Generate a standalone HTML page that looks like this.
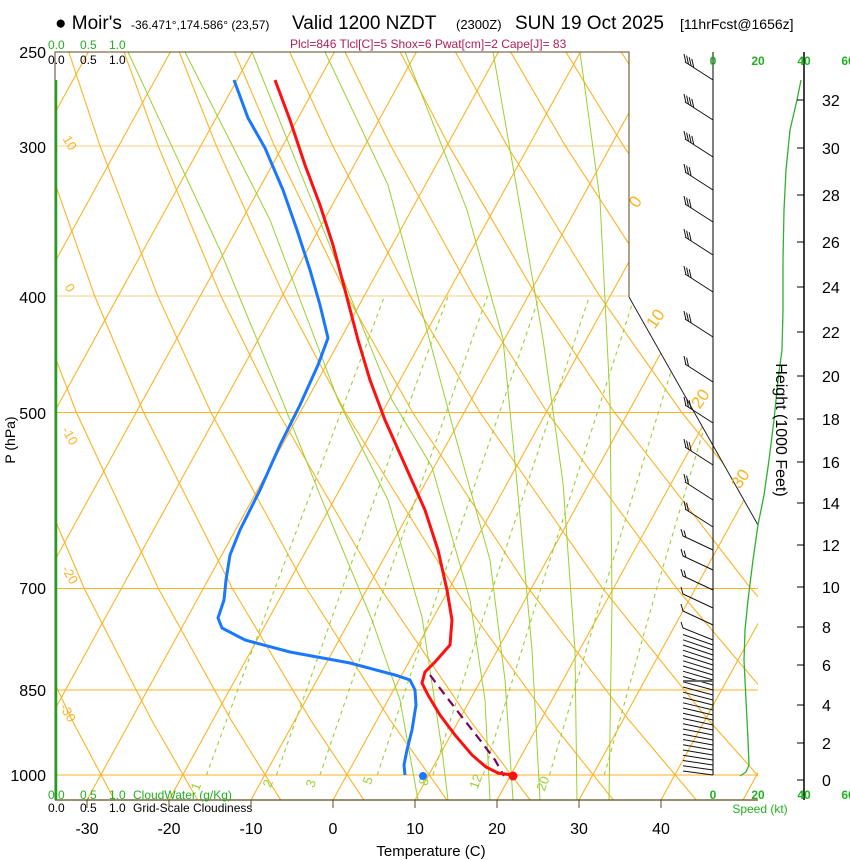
<!DOCTYPE html>
<html><head><meta charset="utf-8">
<style>
html,body{margin:0;padding:0;background:#fff;}
svg{display:block;font-family:"Liberation Sans",sans-serif;}
</style></head>
<body>
<svg width="850" height="860" viewBox="0 0 850 860" xmlns="http://www.w3.org/2000/svg">
<defs><clipPath id="cp"><polygon points="55,52 629,52 629,297 758,525 758,800 55,800"/></clipPath></defs>
<g clip-path="url(#cp)" fill="none">
<g stroke="#fbb324" stroke-width="1">
<line x1="55" y1="775" x2="760" y2="775"/><line x1="55" y1="690" x2="760" y2="690"/><line x1="55" y1="588.5" x2="760" y2="588.5"/><line x1="55" y1="412.5" x2="760" y2="412.5"/>
</g>
<g stroke="#f5cf85" stroke-width="1"><line x1="55" y1="296" x2="760" y2="296"/><line x1="55" y1="146" x2="760" y2="146"/></g>
<g stroke="#fbb324" stroke-width="1.1">
<line x1="-323" y1="800" x2="88.4" y2="52"/><line x1="-241" y1="800" x2="170.4" y2="52"/><line x1="-159" y1="800" x2="252.4" y2="52"/>
<line x1="-77" y1="800" x2="334.4" y2="52"/><line x1="5" y1="800" x2="416.4" y2="52"/><line x1="87" y1="800" x2="498.4" y2="52"/>
<line x1="169" y1="800" x2="580.4" y2="52"/><line x1="251" y1="800" x2="662.4" y2="52"/><line x1="333" y1="800" x2="744.4" y2="52"/>
<line x1="415" y1="800" x2="826.4" y2="52"/><line x1="497" y1="800" x2="908.4" y2="52"/><line x1="579" y1="800" x2="990.4" y2="52"/>
<line x1="661" y1="800" x2="1072.4" y2="52"/><line x1="743" y1="800" x2="1154.4" y2="52"/>
</g>
<g stroke="#fbb324" stroke-width="1.1">
<polyline points="114.7,800.5 71.9,719.9 10.2,588.5"/>
<polyline points="197.9,800.5 151.5,719.9 84.3,588.5 9.2,412.5"/>
<polyline points="281,800.5 231,719.9 158.4,588.5 76.4,412.5 31.5,295.8"/>
<polyline points="364.2,800.5 310.6,719.9 232.4,588.5 143.7,412.5 94.6,295.8 41.6,145.3"/>
<polyline points="447.3,800.5 390.1,719.9 306.5,588.5 211,412.5 157.7,295.8 99.8,145.3 68.1,50"/>
<polyline points="530.5,800.5 469.7,719.9 380.5,588.5 278.2,412.5 220.8,295.8 157.9,145.3 123.3,50"/>
<polyline points="613.7,800.5 549.3,719.9 454.6,588.5 345.5,412.5 283.9,295.8 216.1,145.3 178.5,50"/>
<polyline points="696.8,800.5 628.8,719.9 528.6,588.5 412.7,412.5 347,295.8 274.2,145.3 233.7,50"/>
<polyline points="780,800.5 708.4,719.9 602.7,588.5 480,412.5 410.2,295.8 332.4,145.3 288.8,50"/>
<polyline points="863.1,800.5 788,719.9 676.8,588.5 547.3,412.5 473.3,295.8 390.5,145.3 344,50"/>
<polyline points="946.3,800.5 867.5,719.9 750.8,588.5 614.5,412.5 536.4,295.8 448.7,145.3 399.2,50"/>
<polyline points="1029.4,800.5 947.1,719.9 824.9,588.5 681.8,412.5 599.5,295.8 506.8,145.3 454.4,50"/>
<polyline points="1112.6,800.5 1026.7,719.9 898.9,588.5 749.1,412.5 662.6,295.8 565,145.3 509.5,50"/>
<polyline points="1195.7,800.5 1106.2,719.9 973,588.5 816.3,412.5 725.8,295.8 623.1,145.3 564.7,50"/>
<polyline points="1278.9,800.5 1185.8,719.9 1047,588.5 883.6,412.5 788.9,295.8 681.3,145.3 619.9,50"/>
</g>
<!-- moist adiabats -->
<g stroke="#9ad030" stroke-width="1">
<polyline points="128,52 220,250 282,400 322,500 372,620 400,700 418,800"/>
<polyline points="185,52 270,220 338,400 388,500 422,617 442,750 448,800"/>
<polyline points="252,52 330,246 392,400 432,467 470,600 485,700 490,800"/>
<polyline points="325,52 388,185 455,435 490,560 505,680 513,800"/>
<polyline points="405,52 467,210 503,339 517,483 532,650 540,800"/>
<polyline points="493,52 543,339 563,483 575,650 577,800"/>
<polyline points="580,52 600,200 610,400 612,600 609,800"/>
</g>
<g stroke="#9ad030" stroke-width="1.1" stroke-dasharray="4,4">
<polyline points="206.5,775 274.9,588.5 384.6,295.8"/>
<polyline points="276.4,775 342.2,588.5 448.2,295.8"/>
<polyline points="319.9,775 384,588.5 487.5,295.8"/>
<polyline points="377.3,775 439.2,588.5 539.5,295.8"/>
<polyline points="432.9,775 492.6,588.5 589.6,295.8"/>
<polyline points="483.2,775 540.8,588.5 634.8,295.8"/>
<polyline points="549.5,775 604.3,588.5 694.2,295.8"/>
<polyline points="604.3,775 656.7,588.5 743.1,295.8"/>
</g>
</g>
<polyline points="55,800 55,52 629,52 629,297" fill="none" stroke="#5a4a20" stroke-width="1"/>
<line x1="629" y1="297" x2="758" y2="525" stroke="#222" stroke-width="1"/>
<line x1="55" y1="800" x2="758" y2="800" stroke="#5a4a20" stroke-width="1.2"/>
<line x1="56" y1="80" x2="56" y2="800" stroke="#20a020" stroke-width="2.5"/>
<g font-size="13" fill="#9ad030" text-anchor="middle">
<text x="200" y="788" transform="rotate(-70 200 788)">1</text>
<text x="272" y="785" transform="rotate(-70 272 785)">2</text>
<text x="315" y="785" transform="rotate(-70 315 785)">3</text>
<text x="372" y="782" transform="rotate(-70 372 782)">5</text>
<text x="428" y="783" transform="rotate(-70 428 783)">8</text>
<text x="480" y="783" transform="rotate(-70 480 783)">12</text>
<text x="547" y="785" transform="rotate(-70 547 785)">20</text>
</g>
<g font-size="17" fill="#fbb324" text-anchor="middle">
<text x="640" y="205" transform="rotate(-55 640 205)">0</text>
<text x="660" y="322" transform="rotate(-55 660 322)">10</text>
<text x="705" y="402" transform="rotate(-55 705 402)">20</text>
<text x="745" y="482" transform="rotate(-55 745 482)">30</text>
</g>
<g font-size="13" fill="#fbb324" text-anchor="middle">
<text x="66" y="145" transform="rotate(60 66 145)">10</text>
<text x="66" y="290" transform="rotate(60 66 290)">0</text>
<text x="66" y="438" transform="rotate(60 66 438)">-10</text>
<text x="66" y="577" transform="rotate(60 66 577)">-20</text>
<text x="64" y="715" transform="rotate(60 64 715)">-30</text>
</g>
<polyline points="430,675 445,695 462,717 480,740 495,760 504,776" fill="none" stroke="#800060" stroke-width="2.2" stroke-dasharray="9,6"/>
<polyline fill="none" stroke="#ff1010" stroke-width="3" points="275,80 290,120 305,165 320,205 333,245 345,290 358,340 370,380 385,420 405,465 425,510 438,550 447,590 452,620 450,645 435,662 425,672 422,683 428,695 440,715 455,735 472,755 486,767 498,773 512,775"/>
<polyline fill="none" stroke="#1a78ff" stroke-width="3" points="234,80 248,118 265,148 283,190 297,230 310,270 320,305 328,338 318,365 300,405 280,445 260,490 240,530 230,555 226,580 224,600 218,618 222,628 245,640 290,652 350,663 395,675 410,680 415,690 416,705 412,730 407,750 404,765 405,775"/>
<circle cx="423" cy="776" r="4" fill="#1a78ff"/>
<circle cx="513" cy="776" r="4.5" fill="#ff1010"/>
<line x1="804" y1="52" x2="804" y2="800" stroke="#000" stroke-width="1.5"/>
<line x1="713" y1="52" x2="713" y2="775" stroke="#000" stroke-width="1"/>
<polyline fill="none" stroke="#30b030" stroke-width="1.3" points="801,80 797,100 790,130 786,170 784,210 783,260 783,310 782,350 778,380 774,420 769,460 764,495 758,525 753,560 748,600 745,630 744,660 746,700 748,740 749,765 746,772 740,776"/>
<g fill="none" stroke="#111" stroke-width="1">
<path d="M713,80 l-28,-18 m1,1 l-2,-9 m4.6,10.6 l-2,-9 m4.6,10.6 l-2,-9 m4.6,10.6 l-2,-9"/>
<path d="M713,120 l-28,-18 m1,1 l-2,-9 m4.6,10.6 l-2,-9 m4.6,10.6 l-2,-9 m4.6,10.6 l-2,-9"/>
<path d="M713,157 l-28,-18 m1,1 l-2,-9 m4.6,10.6 l-2,-9 m4.6,10.6 l-2,-9 m4.6,10.6 l-2,-9"/>
<path d="M713,190 l-28,-18 m1,1 l-2,-9 m4.6,10.6 l-2,-9 m4.6,10.6 l-2,-9"/>
<path d="M713,222 l-28,-18 m1,1 l-2,-9 m4.6,10.6 l-2,-9 m4.6,10.6 l-2,-9"/>
<path d="M713,255 l-28,-18 m1,1 l-2,-9 m4.6,10.6 l-2,-9 m4.6,10.6 l-2,-9"/>
<path d="M713,292 l-28,-18 m1,1 l-2,-9 m4.6,10.6 l-2,-9 m4.6,10.6 l-2,-9"/>
<path d="M713,337 l-28,-18 m1,1 l-2,-9 m4.6,10.6 l-2,-9 m4.6,10.6 l-2,-9"/>
<path d="M713,382 l-28,-18 m1,1 l-2,-9 m4.6,10.6 l-2,-9"/>
<path d="M713,423 l-28,-18 m1,1 l-2,-9 m4.6,10.6 l-2,-9 m4.6,10.6 l-2,-9"/>
<path d="M713,465 l-28,-18 m1,1 l-2,-9 m4.6,10.6 l-2,-9 m4.6,10.6 l-2,-9"/>
<path d="M713,500 l-28,-18 m1,1 l-2,-9 m4.6,10.6 l-2,-9"/>
<path d="M713,527 l-28,-18 m1,1 l-2,-9 m4.6,10.6 l-2,-9"/>
<path d="M713,550 l-30,-14 l-2,-7 m5,8.5 l-2,-7"/>
<path d="M713,570 l-30,-14 l-2,-7 m5,8.5 l-2,-7"/>
<path d="M713,590 l-30,-14 l-2,-7 m5,8.5 l-2,-7"/>
<path d="M713,608 l-30,-14 l-2,-7"/>
<path d="M713,625 l-30,-14 l-2,-7"/>
<path d="M713,640 l-30,-12 l-2,-6"/>
<path d="M713,645 l-30,-10.5 M713,650 l-30,-10.2 M713,655 l-30,-10 M713,660 l-30,-9.8 M713,665 l-30,-9.5 M713,670 l-30,-9.2 M713,675 l-30,-9 M713,680 l-30,-8.8 M713,685 l-30,-8.5 M713,690 l-30,-8.2 M713,695 l-30,-8 M713,700 l-30,-7.8 M713,705 l-30,-7.5 M713,710 l-30,-7.2 M713,715 l-30,-7 M713,720 l-30,-6.8 M713,725 l-30,-6.5 M713,730 l-30,-6.2 M713,735 l-30,-6 M713,740 l-30,-5.8 M713,745 l-30,-5.5 M713,750 l-30,-5.2 M713,755 l-30,-5 M713,760 l-30,-4.8 M713,765 l-30,-4.5 M713,770 l-30,-4.2 M713,775 l-30,-4"/>
</g>
<line x1="683" y1="681" x2="713" y2="681" stroke="#666" stroke-width="2"/>
<g stroke="#000" stroke-width="1">
<line x1="797" y1="780" x2="804" y2="780"/><line x1="797" y1="743" x2="804" y2="743"/><line x1="797" y1="705" x2="804" y2="705"/><line x1="797" y1="665" x2="804" y2="665"/><line x1="797" y1="627" x2="804" y2="627"/><line x1="797" y1="587" x2="804" y2="587"/><line x1="797" y1="545" x2="804" y2="545"/><line x1="797" y1="503" x2="804" y2="503"/><line x1="797" y1="462" x2="804" y2="462"/><line x1="797" y1="419" x2="804" y2="419"/><line x1="797" y1="376" x2="804" y2="376"/><line x1="797" y1="332" x2="804" y2="332"/><line x1="797" y1="287" x2="804" y2="287"/><line x1="797" y1="242" x2="804" y2="242"/><line x1="797" y1="195" x2="804" y2="195"/><line x1="797" y1="148" x2="804" y2="148"/><line x1="797" y1="100" x2="804" y2="100"/>
</g>
<g font-size="16">
<text x="822" y="786">0</text><text x="822" y="749">2</text><text x="822" y="711">4</text><text x="822" y="671">6</text><text x="822" y="633">8</text><text x="822" y="593">10</text><text x="822" y="551">12</text><text x="822" y="509">14</text><text x="822" y="468">16</text><text x="822" y="425">18</text><text x="822" y="382">20</text><text x="822" y="338">22</text><text x="822" y="293">24</text><text x="822" y="248">26</text><text x="822" y="201">28</text><text x="822" y="154">30</text><text x="822" y="106">32</text>
</g>
<text transform="translate(776,430) rotate(90)" font-size="16" text-anchor="middle">Height (1000 Feet)</text>
<text x="55" y="29" font-size="19">● Moir's</text>
<text x="131" y="29" font-size="12">-36.471°,174.586° (23,57)</text>
<text x="292" y="29" font-size="19">Valid 1200 NZDT</text>
<text x="456" y="29" font-size="13">(2300Z)</text>
<text x="515" y="29" font-size="19">SUN 19 Oct 2025</text>
<text x="680" y="29" font-size="14">[11hrFcst@1656z]</text>
<text x="290" y="48" font-size="12" fill="#b0205a">Plcl=846 Tlcl[C]=5 Shox=6 Pwat[cm]=2 Cape[J]= 83</text>
<text y="49" font-size="12" fill="#20b020"><tspan x="48">0.0</tspan><tspan x="80">0.5</tspan><tspan x="109">1.0</tspan></text>
<text y="64" font-size="12"><tspan x="48">0.0</tspan><tspan x="80">0.5</tspan><tspan x="109">1.0</tspan></text>
<text y="799" font-size="12" fill="#20b020"><tspan x="48">0.0</tspan><tspan x="80">0.5</tspan><tspan x="109">1.0</tspan><tspan x="133">CloudWater (g/Kg)</tspan></text>
<text y="812" font-size="12"><tspan x="48">0.0</tspan><tspan x="80">0.5</tspan><tspan x="109">1.0</tspan><tspan x="133">Grid-Scale Cloudiness</tspan></text>
<g font-size="16" text-anchor="end">
<text x="46" y="58">250</text><text x="46" y="153">300</text><text x="46" y="303">400</text>
<text x="46" y="419">500</text><text x="46" y="594">700</text><text x="46" y="696">850</text><text x="46" y="781">1000</text>
</g>
<text transform="translate(15,440) rotate(-90)" font-size="14" text-anchor="middle">P (hPa)</text>
<g stroke="#5a4a20" stroke-width="1">
<line x1="87" y1="800" x2="87" y2="808"/><line x1="169" y1="800" x2="169" y2="808"/><line x1="251" y1="800" x2="251" y2="808"/><line x1="333" y1="800" x2="333" y2="808"/><line x1="415" y1="800" x2="415" y2="808"/><line x1="497" y1="800" x2="497" y2="808"/><line x1="579" y1="800" x2="579" y2="808"/><line x1="661" y1="800" x2="661" y2="808"/>
</g>
<g font-size="16" text-anchor="middle">
<text x="87" y="834">-30</text><text x="169" y="834">-20</text><text x="251" y="834">-10</text><text x="333" y="834">0</text>
<text x="415" y="834">10</text><text x="497" y="834">20</text><text x="579" y="834">30</text><text x="661" y="834">40</text>
</g>
<text x="431" y="856" font-size="15" text-anchor="middle">Temperature (C)</text>
<g font-size="12" fill="#20b020" font-weight="bold" text-anchor="middle">
<text x="713" y="65">0</text><text x="758" y="65">20</text><text x="804" y="65">40</text><text x="848" y="65">60</text>
<text x="713" y="799">0</text><text x="758" y="799">20</text><text x="804" y="799">40</text><text x="848" y="799">60</text>
</g>
<text x="760" y="813" font-size="12" fill="#20b020" text-anchor="middle">Speed (kt)</text>
</svg>
</body></html>
